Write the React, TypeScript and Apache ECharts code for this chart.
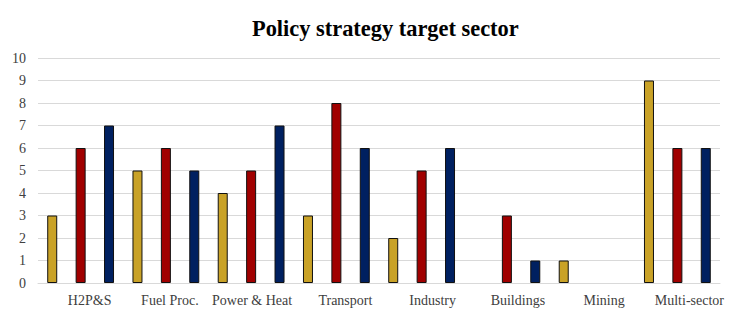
import React, { useEffect, useRef } from "react";
import * as echarts from "echarts";

const categories = ["H2P&S", "Fuel Proc.", "Power & Heat", "Transport", "Industry", "Buildings", "Mining", "Multi-sector"];
const seriesA = [3, 5, 4, 3, 2, 0, 1, 9];
const seriesB = [6, 6, 5, 8, 5, 3, 0, 6];
const seriesC = [7, 5, 7, 6, 6, 1, 0, 6];
const yTicks = [0, 1, 2, 3, 4, 5, 6, 7, 8, 9, 10];

const labelShift = [9, 4, 1, 9, 11, 11, 12, 12];
const colors = ["#C9A227", "#A00000", "#002060"];
const serif = "'Liberation Serif', 'Times New Roman', serif";

export default function App() {
  const ref = useRef<HTMLDivElement>(null);
  useEffect(() => {
    if (!ref.current) return;
    const chart = echarts.init(ref.current, null, { renderer: "svg" });
    const rich: Record<string, any> = {};
    labelShift.forEach((s, i) => {
      rich["p" + i] = { padding: [0, 0, 0, s * 2], fontFamily: serif, fontSize: 14, color: "#404040" };
    });
    const mk = (name: string, data: number[], i: number) => ({
      name,
      type: "bar",
      data: data.map((v) => (v === 0 ? "-" : v)),
      barWidth: 10,
      barGap: "184%",
      itemStyle: { color: colors[i], borderColor: "#111", borderWidth: 1 },
    });
    chart.setOption({
      animation: false,
      title: {
        text: "Policy strategy target sector",
        left: 247,
        top: 12,
        textStyle: { fontFamily: serif, fontSize: 22.4, fontWeight: "bold", color: "#000" },
      },
      grid: { left: 38, right: 17, top: 58, bottom: 40 },
      xAxis: {
        type: "category",
        data: categories,
        axisTick: { show: false },
        axisLine: { lineStyle: { color: "#D9D9D9" } },
        axisLabel: {
          margin: 10,
          interval: 0,
          fontFamily: serif,
          fontSize: 14,
          color: "#404040",
          formatter: (v: string, i: number) => `{p${i}|${v}}`,
          rich,
        },
      },
      yAxis: {
        type: "value",
        min: yTicks[0],
        max: yTicks[yTicks.length - 1],
        interval: 1,
        axisLine: { show: false },
        axisTick: { show: false },
        splitLine: { lineStyle: { color: "#D9D9D9" } },
        axisLabel: { margin: 12, fontFamily: serif, fontSize: 14, color: "#404040" },
      },
      series: [mk("A", seriesA, 0), mk("B", seriesB, 1), mk("C", seriesC, 2)],
    });
    return () => chart.dispose();
  }, []);
  return <div ref={ref} style={{ position: "fixed", left: 0, top: 0, width: 737, height: 323, background: "#fff" }} />;
}
